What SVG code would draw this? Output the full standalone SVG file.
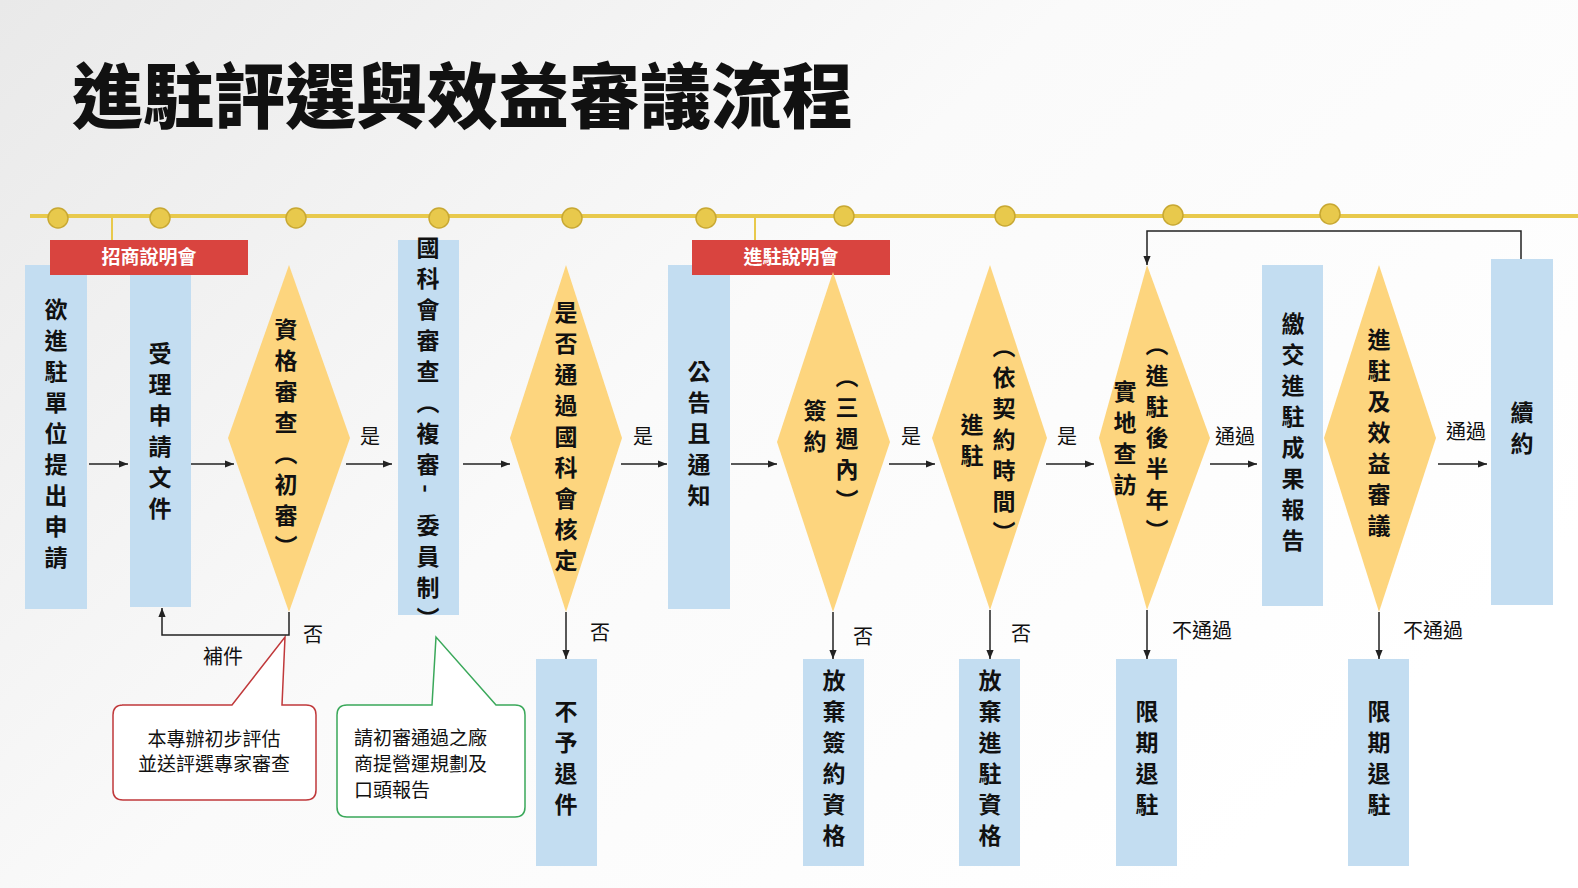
<svg xmlns="http://www.w3.org/2000/svg" width="1578" height="888" viewBox="0 0 1578 888">
<defs>
<linearGradient id="bg" x1="0" y1="0" x2="1" y2="0.6"><stop offset="0" stop-color="#e9e9e9"/><stop offset="0.5" stop-color="#fafafa"/><stop offset="1" stop-color="#ffffff"/></linearGradient>
<marker id="ah" viewBox="0 0 10 10" refX="10" refY="5" markerWidth="6" markerHeight="6" orient="auto"><path d="M0,1 L10,5 L0,9 z" fill="#222"/></marker>
<style>
.box{fill:#c3ddf1}
.dia{fill:#fdd57e}
.ban{fill:#d9443f}
.bt{font-family:"Noto Sans CJK TC","Noto Sans CJK SC",sans-serif;font-size:19px;font-weight:bold;fill:#fff;text-anchor:middle}
.v{font-family:"Noto Sans CJK TC","Noto Sans CJK SC",sans-serif;font-size:23px;font-weight:bold;fill:#111;writing-mode:vertical-rl;text-anchor:middle;letter-spacing:8px}
.l{font-family:"Noto Sans CJK TC","Noto Sans CJK SC",sans-serif;font-size:19px;fill:#111;text-anchor:middle}
.c{font-family:"Noto Sans CJK TC","Noto Sans CJK SC",sans-serif;font-size:20px;fill:#111}
.ln{stroke:#222;stroke-width:1.5;fill:none}
.dot{fill:#e8c94c;stroke:#c8a832;stroke-width:1.5}
</style>
</defs>
<rect width="1578" height="888" fill="url(#bg)"/>
<text x="72" y="122" font-family="Noto Sans CJK TC,Noto Sans CJK SC,sans-serif" font-size="71" font-weight="900" fill="#111">進駐評選與效益審議流程</text>
<g id="timeline">
<line x1="30" y1="216" x2="1578" y2="216" stroke="#e8c94c" stroke-width="4"/>
<line x1="112" y1="216" x2="112" y2="240" stroke="#e8c94c" stroke-width="2"/>
<line x1="755" y1="216" x2="755" y2="240" stroke="#e8c94c" stroke-width="2"/>
<circle class="dot" cx="58" cy="218" r="10"/><circle class="dot" cx="160" cy="218" r="10"/><circle class="dot" cx="296" cy="218" r="10"/><circle class="dot" cx="439" cy="218" r="10"/><circle class="dot" cx="572" cy="218" r="10"/><circle class="dot" cx="706" cy="218" r="10"/><circle class="dot" cx="844" cy="216" r="10"/><circle class="dot" cx="1005" cy="216" r="10"/><circle class="dot" cx="1173" cy="215" r="10"/><circle class="dot" cx="1330" cy="214" r="10"/>
</g>
<g id="n1"><rect class="box" x="25" y="265" width="62" height="344"/><text class="v" x="56" y="437">欲進駐單位提出申請</text></g>
<g id="banner1"><rect class="ban" x="50" y="240" width="198" height="35"/><text class="bt" x="149" y="264">招商說明會</text></g>
<g id="n2"><rect class="box" x="130" y="275" width="61" height="332"/><text class="v" x="160" y="435">受理申請文件</text></g>
<g id="d1"><polygon class="dia" points="289,265 350,438 289,612 228,438"/><text class="v" x="286" y="442">資格審查（初審）</text></g>
<g id="n3"><rect class="box" x="398" y="240" width="61" height="375"/><text class="v" x="428" y="437">國科會審查（複審- 委員制）</text></g>
<g id="d2"><polygon class="dia" points="566,265 622,438 566,612 510,438"/><text class="v" x="566" y="440">是否通過國科會核定</text></g>
<g id="n4"><rect class="box" x="668" y="265" width="62" height="344"/><text class="v" x="699" y="437">公告且通知</text></g>
<g id="banner2"><rect class="ban" x="692" y="240" width="198" height="35"/><text class="bt" x="791" y="264">進駐說明會</text></g>
<g id="d3"><polygon class="dia" points="833,272 890,442 833,612 777,442"/><text class="v" x="815" y="430">簽約</text><text class="v" x="847" y="442">（三週內）</text></g>
<g id="d4"><polygon class="dia" points="990,265 1047,438 990,610 932,438"/><text class="v" x="972" y="444">進駐</text><text class="v" x="1004" y="443">（依契約時間）</text></g>
<g id="d5"><polygon class="dia" points="1147,265 1210,438 1147,610 1099,438"/><text class="v" x="1125" y="442">實地查訪</text><text class="v" x="1157" y="441">（進駐後半年）</text></g>
<g id="n5"><rect class="box" x="1262" y="265" width="61" height="341"/><text class="v" x="1293" y="436">繳交進駐成果報告</text></g>
<g id="d6"><polygon class="dia" points="1379,265 1436,438 1379,612 1324,438"/><text class="v" x="1379" y="436">進駐及效益審議</text></g>
<g id="n6"><rect class="box" x="1491" y="259" width="62" height="346"/><text class="v" x="1522" y="432">續約</text></g>
<g id="b1"><rect class="box" x="536" y="659" width="61" height="207"/><text class="v" x="566" y="762">不予退件</text></g>
<g id="b2"><rect class="box" x="803" y="659" width="61" height="207"/><text class="v" x="834" y="762">放棄簽約資格</text></g>
<g id="b3"><rect class="box" x="959" y="659" width="61" height="207"/><text class="v" x="990" y="762">放棄進駐資格</text></g>
<g id="b4"><rect class="box" x="1116" y="659" width="61" height="207"/><text class="v" x="1147" y="762">限期退駐</text></g>
<g id="b5"><rect class="box" x="1348" y="659" width="61" height="207"/><text class="v" x="1379" y="762">限期退駐</text></g>
<g id="callout1"><path d="M122,705 H232 L285,637 L282,705 H306 Q316,705 316,715 V790 Q316,800 306,800 H123 Q113,800 113,790 V715 Q113,705 123,705 z" fill="#fff" stroke="#c0393b" stroke-width="1.5"/><text class="l" x="214" y="746">本專辦初步評估</text><text class="l" x="214" y="771">並送評選專家審查</text></g>
<g id="callout2"><path d="M347,705 H432 L436,637 L496,705 H515 Q525,705 525,715 V807 Q525,817 515,817 H347 Q337,817 337,807 V715 Q337,705 347,705 z" fill="#fff" stroke="#3aa85a" stroke-width="1.5"/><text class="l" x="354" y="745" text-anchor="start" style="text-anchor:start">請初審通過之廠</text><text class="l" x="354" y="771" style="text-anchor:start">商提營運規劃及</text><text class="l" x="354" y="797" style="text-anchor:start">口頭報告</text></g>
<g id="connectors">
<line class="ln" x1="89" y1="464" x2="128" y2="464" marker-end="url(#ah)"/>
<line class="ln" x1="191" y1="464" x2="234" y2="464" marker-end="url(#ah)"/>
<line class="ln" x1="346" y1="464" x2="392" y2="464" marker-end="url(#ah)"/>
<line class="ln" x1="463" y1="464" x2="510" y2="464" marker-end="url(#ah)"/>
<line class="ln" x1="621" y1="464" x2="667" y2="464" marker-end="url(#ah)"/>
<line class="ln" x1="731" y1="464" x2="777" y2="464" marker-end="url(#ah)"/>
<line class="ln" x1="889" y1="464" x2="935" y2="464" marker-end="url(#ah)"/>
<line class="ln" x1="1046" y1="464" x2="1094" y2="464" marker-end="url(#ah)"/>
<line class="ln" x1="1210" y1="464" x2="1257" y2="464" marker-end="url(#ah)"/>
<line class="ln" x1="1438" y1="464" x2="1487" y2="464" marker-end="url(#ah)"/>
<line class="ln" x1="566" y1="612" x2="566" y2="659" marker-end="url(#ah)"/>
<line class="ln" x1="833" y1="612" x2="833" y2="659" marker-end="url(#ah)"/>
<line class="ln" x1="990" y1="610" x2="990" y2="659" marker-end="url(#ah)"/>
<line class="ln" x1="1147" y1="610" x2="1147" y2="659" marker-end="url(#ah)"/>
<line class="ln" x1="1379" y1="612" x2="1379" y2="659" marker-end="url(#ah)"/>
<polyline class="ln" points="289,612 289,635 162,635 162,608" marker-end="url(#ah)"/>
<polyline class="ln" points="1521,259 1521,231 1147,231 1147,265" marker-end="url(#ah)"/>
<text class="c" x="370" y="444" text-anchor="middle">是</text>
<text class="c" x="643" y="444" text-anchor="middle">是</text>
<text class="c" x="911" y="444" text-anchor="middle">是</text>
<text class="c" x="1067" y="444" text-anchor="middle">是</text>
<text class="c" x="1235" y="444" text-anchor="middle">通過</text>
<text class="c" x="1466" y="439" text-anchor="middle">通過</text>
<text class="c" x="313" y="642" text-anchor="middle">否</text>
<text class="c" x="223" y="664" text-anchor="middle">補件</text>
<text class="c" x="600" y="640" text-anchor="middle">否</text>
<text class="c" x="863" y="644" text-anchor="middle">否</text>
<text class="c" x="1021" y="641" text-anchor="middle">否</text>
<text class="c" x="1202" y="638" text-anchor="middle">不通過</text>
<text class="c" x="1433" y="638" text-anchor="middle">不通過</text>
</g>
</svg>
